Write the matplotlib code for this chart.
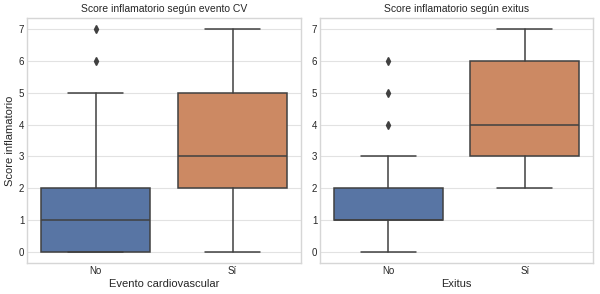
import matplotlib
matplotlib.use('Agg')
import matplotlib.pyplot as plt

plt.style.use('seaborn-v0_8-whitegrid')
plt.rcParams['font.family'] = ['Liberation Sans', 'DejaVu Sans']
plt.rcParams['grid.color'] = '#e2e2e2'
plt.rcParams['axes.edgecolor'] = '#d6d6d6'

categories = ['No', 'Sí']

# box stats: (whislo, q1, med, q3, whishi)
cv_stats = [(0, 0, 1, 2, 5), (0, 2, 3, 5, 7)]
cv_fliers = [[6, 7], []]
exitus_stats = [(0, 1, 1, 2, 3), (2, 3, 4, 6, 7)]
exitus_fliers = [[4, 5, 6], []]

colors = ['#5875a4', '#cc8963']
line_col = '#404040'


def make_stats(stats, fliers):
    out = []
    for (lo, q1, med, q3, hi), fl in zip(stats, fliers):
        out.append({'whislo': lo, 'q1': q1, 'med': med, 'q3': q3,
                    'whishi': hi, 'fliers': fl})
    return out


def draw_box(ax, stats, fliers, title, xlabel):
    bp = ax.bxp(make_stats(stats, fliers), positions=range(len(categories)),
                widths=0.8, patch_artist=True, showfliers=True,
                boxprops=dict(edgecolor=line_col, linewidth=1.1),
                medianprops=dict(color=line_col, linewidth=1.1),
                whiskerprops=dict(color=line_col, linewidth=1.1),
                capprops=dict(color=line_col, linewidth=1.1),
                flierprops=dict(marker='d', markerfacecolor=line_col,
                                markeredgecolor=line_col, markersize=4))
    for patch, c in zip(bp['boxes'], colors):
        patch.set_facecolor(c)
    for i, cap in enumerate(bp['caps']):
        x = i // 2
        cap.set_xdata([x - 0.2, x + 0.2])
    ax.set_xlim(-0.5, 1.5)
    ax.set_ylim(-0.35, 7.35)
    ax.set_xticks(range(len(categories)))
    ax.set_xticklabels(categories)
    ax.set_yticks(range(8))
    ax.xaxis.grid(False)
    ax.set_title(title, fontsize=7.5, pad=4)
    ax.set_xlabel(xlabel, fontsize=8, labelpad=2)
    ax.tick_params(labelsize=7, pad=2)


fig = plt.figure(figsize=(6, 2.94), dpi=100)
ax1 = fig.add_axes([27 / 600, 31 / 294, 274 / 600, 245 / 294])
ax2 = fig.add_axes([320 / 600, 31 / 294, 273 / 600, 245 / 294])

draw_box(ax1, cv_stats, cv_fliers, 'Score inflamatorio según evento CV', 'Evento cardiovascular')
ax1.set_ylabel('Score inflamatorio', fontsize=8, labelpad=3)
draw_box(ax2, exitus_stats, exitus_fliers, 'Score inflamatorio según exitus', 'Exitus')

fig.savefig('out.png', dpi=100)
